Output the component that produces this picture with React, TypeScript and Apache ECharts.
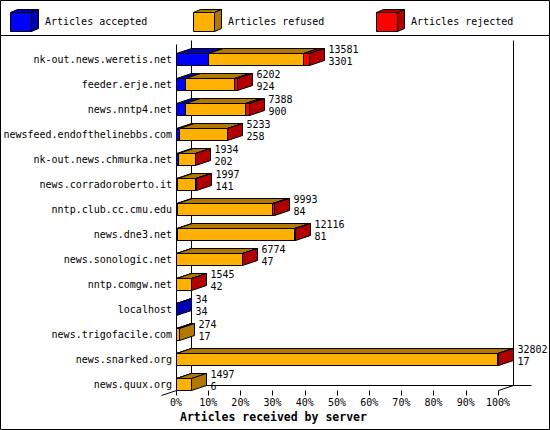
import React, { useEffect, useRef } from 'react';
import * as echarts from 'echarts';

const servers = [
  'nk-out.news.weretis.net',
  'feeder.erje.net',
  'news.nntp4.net',
  'newsfeed.endofthelinebbs.com',
  'nk-out.news.chmurka.net',
  'news.corradoroberto.it',
  'nntp.club.cc.cmu.edu',
  'news.dne3.net',
  'news.sonologic.net',
  'nntp.comgw.net',
  'localhost',
  'news.trigofacile.com',
  'news.snarked.org',
  'news.quux.org',
];
// first label: articles offered, second label: articles accepted
const totals = [13581, 6202, 7388, 5233, 1934, 1997, 9993, 12116, 6774, 1545, 34, 274, 32802, 1497];
const accepted = [3301, 924, 900, 258, 202, 141, 84, 81, 47, 42, 34, 17, 17, 6];
const refused = [9680, 5028, 6158, 4935, 1702, 1806, 9659, 11955, 6687, 1483, 0, 257, 32725, 1491];
const rejected = [600, 250, 330, 40, 30, 50, 250, 80, 40, 20, 0, 0, 60, 0];

const seriesNames = ['Articles accepted', 'Articles refused', 'Articles rejected'];
const frontColors = ['#0000ff', '#ffb000', '#ff0000'];
const darkColors = ['#0000b0', '#b07800', '#b00000'];

const MONO = '"DejaVu Sans Mono", monospace';
const DX = 15; // depth of the 3d boxes
const DY = 5;
const HALF = 6; // half height of the front face
const maxTotal = Math.max(...totals);
const px = (v: number) => Math.round(v) + 0.5;

const renderBar = (params: any, api: any) => {
  const i = params.dataIndex;
  const vals = [api.value(1), api.value(2), api.value(3)];
  const c = api.coord([0, i])[1];
  const yt = px(c - HALF);
  const yb = px(c + HALF);
  let last = -1;
  vals.forEach((v, k) => {
    if (v > 0) last = k;
  });
  const children: any[] = [];
  let cum = 0;
  let xEnd = px(api.coord([0, i])[0]);
  vals.forEach((v, k) => {
    if (v <= 0) return;
    const x0 = px(api.coord([(cum / maxTotal) * 100, i])[0]);
    cum += v;
    const x1 = px(api.coord([(cum / maxTotal) * 100, i])[0]);
    xEnd = x1;
    children.push({
      type: 'polygon',
      shape: { points: [[x0, yt], [x1, yt], [x1 + DX, yt - DY], [x0 + DX, yt - DY]] },
      style: { fill: darkColors[k], stroke: '#000', lineWidth: 1 },
    });
    children.push({
      type: 'rect',
      shape: { x: x0, y: yt, width: x1 - x0, height: yb - yt },
      style: { fill: frontColors[k], stroke: '#000', lineWidth: 1 },
    });
    if (k === last) {
      children.push({
        type: 'polygon',
        shape: { points: [[x1, yt], [x1 + DX, yt - DY], [x1 + DX, yb - DY], [x1, yb]] },
        style: { fill: darkColors[k], stroke: '#000', lineWidth: 1 },
      });
    }
  });
  const font = `10px ${MONO}`;
  children.push({
    type: 'text',
    x: xEnd + DX + 4,
    y: c - 10,
    style: { text: String(api.value(4)), font, fill: '#000', verticalAlign: 'middle' },
  });
  children.push({
    type: 'text',
    x: xEnd + DX + 4,
    y: c + 2,
    style: { text: String(api.value(1)), font, fill: '#000', verticalAlign: 'middle' },
  });
  return { type: 'group', children };
};

const renderFrame = (params: any, api: any) => {
  const [x0, yFirst] = api.coord([0, 0]);
  const [x100, yLast] = api.coord([100, servers.length - 1]);
  const top = px(yFirst - HALF - DY - 8);
  const floor = px(yLast + HALF);
  const L = px(x0);
  const R = px(x100);
  const segs = [
    [L, top + 4, L, floor],
    [L + DX, top, L + DX, floor - DY],
    [R + DX, top, R + DX, floor - DY],
    [L + DX, floor - DY, R + DX + 18, floor - DY],
    [L, floor, L - DX, floor + DY],
    [R, floor, R + DX, floor - DY],
  ];
  return {
    type: 'group',
    children: segs.map(([x1, y1, x2, y2]) => ({
      type: 'line',
      shape: { x1, y1, x2, y2 },
      style: { stroke: '#000', lineWidth: 1 },
    })),
  };
};

const legendGraphics = seriesNames.flatMap((name, k) => {
  const left = 10.5 + k * 183;
  const top = 12.5;
  const w = 21;
  const h = 19;
  const dx = 7;
  const dy = 3;
  return [
    {
      type: 'polygon',
      shape: { points: [[left, top], [left + w, top], [left + w + dx, top - dy], [left + dx, top - dy]] },
      style: { fill: darkColors[k], stroke: '#000', lineWidth: 1 },
    },
    {
      type: 'polygon',
      shape: { points: [[left + w, top], [left + w + dx, top - dy], [left + w + dx, top + h - dy], [left + w, top + h]] },
      style: { fill: darkColors[k], stroke: '#000', lineWidth: 1 },
    },
    {
      type: 'rect',
      shape: { x: left, y: top, width: w, height: h },
      style: { fill: frontColors[k], stroke: '#000', lineWidth: 1 },
    },
    {
      type: 'text',
      x: left + 34.5,
      y: 21,
      style: { text: name, font: `10px ${MONO}`, fill: '#000', verticalAlign: 'middle' },
    },
  ];
});

const App: React.FC = () => {
  const chartRef = useRef<HTMLDivElement | null>(null);

  useEffect(() => {
    if (!chartRef.current) return;
    const chart = echarts.init(chartRef.current, undefined, { renderer: 'svg' });

    const option = {
      animation: false,
      backgroundColor: '#fff',
      grid: { left: 176, right: 52, top: 46.5, height: 350 },
      xAxis: {
        type: 'value',
        min: 0,
        max: 100,
        interval: 10,
        offset: -6,
        axisLine: { show: false },
        axisTick: { show: true, length: 5, lineStyle: { color: '#000', width: 1 } },
        splitLine: { show: false },
        axisLabel: {
          formatter: '{value}%',
          margin: 7,
          color: '#000',
          fontFamily: MONO,
          fontSize: 10,
        },
      },
      yAxis: {
        type: 'category',
        inverse: true,
        data: servers,
        axisLine: { show: false },
        axisTick: { show: false },
        axisLabel: { margin: 4, color: '#000', fontFamily: MONO, fontSize: 10 },
      },
      graphic: [
        {
          type: 'line',
          shape: { x1: 0, y1: 35.5, x2: 550, y2: 35.5 },
          style: { stroke: '#000', lineWidth: 1 },
        },
        ...legendGraphics,
        {
          type: 'text',
          x: 180,
          y: 417,
          style: {
            text: 'Articles received by server',
            font: `bold 11.5px ${MONO}`,
            fill: '#000',
            verticalAlign: 'middle',
          },
        },
        {
          type: 'rect',
          shape: { x: 0.5, y: 0.5, width: 549, height: 429 },
          style: { fill: 'none', stroke: '#000', lineWidth: 1 },
          z: 100,
        },
      ],
      series: [
        {
          type: 'custom',
          name: 'frame',
          z: 1,
          renderItem: renderFrame,
          data: [[0, 0]],
          encode: { x: 0, y: 1 },
        },
        {
          type: 'custom',
          name: 'servers',
          z: 2,
          renderItem: renderBar,
          data: servers.map((_, i) => [i, accepted[i], refused[i], rejected[i], totals[i]]),
          encode: { y: 0, x: 1 },
        },
      ],
    };

    chart.setOption(option);
    return () => {
      chart.dispose();
    };
  }, []);

  return (
    <div
      ref={chartRef}
      style={{ position: 'absolute', left: 0, top: 0, width: 550, height: 430, backgroundColor: 'white' }}
    />
  );
};

export default App;
